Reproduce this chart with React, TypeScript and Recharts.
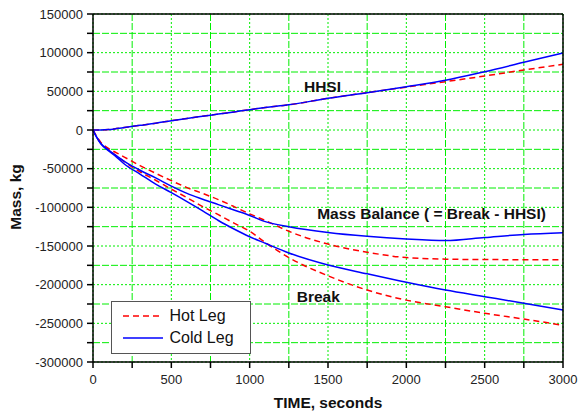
import { LineChart, Line, XAxis, YAxis, CartesianGrid, ReferenceDot } from 'recharts';

const FONT = 'Arial, "Liberation Sans", sans-serif';

// time, seconds
const TIME = [0, 25, 50, 100, 150, 200, 300, 400, 500, 600, 700, 800, 900, 1000, 1100, 1250, 1500, 1750, 2000, 2250, 2500, 2750, 3000];

// mass, kg
const HHSI_HOT = [0, 0, 0, 500, 1800, 3200, 6000, 8800, 12000, 15000, 17800, 20600, 23400, 26300, 29000, 32500, 41000, 48300, 55500, 62500, 69800, 77600, 85000];
const HHSI_COLD = [0, 0, 0, 500, 1800, 3200, 6000, 8800, 12000, 15000, 17800, 20600, 23400, 26300, 29000, 32500, 41000, 48300, 56000, 64300, 75400, 87500, 99600];
const BALANCE_HOT = [0, -9000, -16000, -24000, -29500, -35000, -46000, -56000, -65500, -74500, -82000, -90000, -99000, -108500, -117000, -131000, -147500, -158000, -165000, -167000, -167500, -167700, -167700];
const BALANCE_COLD = [0, -10000, -17500, -26000, -33500, -40500, -52000, -62000, -72500, -82000, -89500, -96500, -103500, -110500, -118500, -125000, -132500, -137500, -141000, -143000, -139000, -135000, -132800];
const BREAK_HOT = [0, -9500, -17000, -26000, -33500, -41000, -54000, -65000, -76500, -87500, -99000, -109500, -120500, -131000, -145500, -165000, -188500, -207000, -220000, -228500, -237000, -244500, -252500];
const BREAK_COLD = [0, -10000, -18000, -27000, -35000, -44000, -57000, -70000, -81000, -92500, -104500, -117000, -128000, -138000, -146500, -159000, -174500, -186000, -197000, -207000, -215500, -224000, -232700];

const X_TICKS = [0, 250, 500, 750, 1000, 1250, 1500, 1750, 2000, 2250, 2500, 2750, 3000];
const X_MAJOR = [0, 500, 1000, 1500, 2000, 2500, 3000];
const X_MINOR = [250, 750, 1250, 1750, 2250, 2750];
const Y_TICKS = [-300000, -275000, -250000, -225000, -200000, -175000, -150000, -125000, -100000, -75000, -50000, -25000, 0, 25000, 50000, 75000, 100000, 125000, 150000];
const Y_MAJOR = [-300000, -250000, -200000, -150000, -100000, -50000, 0, 50000, 100000, 150000];
const Y_MINOR = [-275000, -225000, -175000, -125000, -75000, -25000, 25000, 75000, 125000];

const data = TIME.map((t, i) => ({
    t,
    hhsiHot: HHSI_HOT[i],
    hhsiCold: HHSI_COLD[i],
    balHot: BALANCE_HOT[i],
    balCold: BALANCE_COLD[i],
    brkHot: BREAK_HOT[i],
    brkCold: BREAK_COLD[i],
}));

const HOT = { stroke: '#ff0000', strokeDasharray: '6 4' };
const COLD = { stroke: '#0000ff', strokeDasharray: undefined };

const LEGEND = [
    { label: 'Hot Leg', ...HOT },
    { label: 'Cold Leg', ...COLD },
];

const NOTES = [
    { text: 'HHSI', x: 1465, y: 56000 },
    { text: 'Mass Balance ( = Break - HHSI)', x: 2161, y: -108400 },
    { text: 'Break', x: 1438, y: -215200 },
];

const tickStyle = { fontSize: 13, fill: '#222', fontFamily: FONT };

const YTitle = ({ viewBox }: any) => {
    const cy = viewBox.y + viewBox.height / 2 + 9;
    return (
        <text x={21} y={cy} transform={`rotate(-90 21 ${cy})`} textAnchor="middle"
            fontSize={15.5} fontWeight="bold" fill="#111" fontFamily={FONT}>
            Mass, kg
        </text>
    );
};

export default function App() {
    const series = [
        { key: 'hhsiHot', ...HOT },
        { key: 'balHot', ...HOT },
        { key: 'brkHot', ...HOT },
        { key: 'hhsiCold', ...COLD },
        { key: 'balCold', ...COLD },
        { key: 'brkCold', ...COLD },
    ];

    return (
        <div style={{ position: 'absolute', left: 0, top: 0, width: 578, height: 416, background: '#fff', fontFamily: FONT }}>
            <LineChart width={578} height={416} data={data} margin={{ top: 14, right: 15, left: 0, bottom: 0 }}>
                {/* minor grid dashed, major grid dotted */}
                <CartesianGrid verticalValues={X_MINOR} horizontalValues={Y_MINOR} stroke="#00ee00" strokeDasharray="7 2" />
                <CartesianGrid verticalValues={X_MAJOR} horizontalValues={Y_MAJOR} stroke="#00ee00" strokeDasharray="2 2" />

                <XAxis dataKey="t" type="number" domain={[0, 3000]} ticks={X_TICKS} interval={0}
                    height={54} stroke="#000" strokeWidth={1.5} tickSize={6} tickMargin={7} tick={tickStyle}
                    tickFormatter={(v: number) => (v % 500 === 0 ? String(v) : '')}
                    label={{ value: 'TIME, seconds', position: 'insideBottom', offset: 8, fontSize: 15.5, fontWeight: 'bold', fill: '#111', fontFamily: FONT }} />
                <XAxis xAxisId="top" orientation="top" dataKey="t" type="number" domain={[0, 3000]} ticks={X_TICKS}
                    interval={0} mirror tick={false} tickSize={5} stroke="#000" strokeWidth={1.5} />
                <YAxis type="number" domain={[-300000, 150000]} ticks={Y_TICKS} interval={0} width={93}
                    stroke="#000" strokeWidth={1.5} tickSize={6} tickMargin={4} tick={tickStyle}
                    tickFormatter={(v: number) => (v % 50000 === 0 ? String(v) : '')}
                    label={<YTitle />} />
                <YAxis yAxisId="right" orientation="right" type="number" domain={[-300000, 150000]} ticks={Y_TICKS}
                    interval={0} mirror tick={false} tickSize={5} stroke="#000" strokeWidth={1.5} />

                {series.map((s) => (
                    <Line key={s.key} type="monotone" dataKey={s.key} stroke={s.stroke} strokeDasharray={s.strokeDasharray}
                        strokeWidth={1.5} dot={false} isAnimationActive={false} />
                ))}

                {NOTES.map((n) => (
                    <ReferenceDot key={n.text} x={n.x} y={n.y} r={1} fill="none" stroke="none"
                        label={{ value: n.text, position: 'center', fontSize: 15.5, fontWeight: 'bold', fill: '#111', fontFamily: FONT }} />
                ))}
            </LineChart>

            {/* Legend */}
            <div style={{ position: 'absolute', left: 111, top: 301, width: 140, height: 53, border: '1.5px solid #555', background: '#fff', boxSizing: 'border-box' }}>
                {LEGEND.map((item, i) => (
                    <div key={item.label} style={{ position: 'absolute', left: 11, top: 4 + i * 22.3, height: 20, display: 'flex', alignItems: 'center' }}>
                        <svg width={40} height={4}>
                            <line x1={0} y1={2} x2={40} y2={2} stroke={item.stroke} strokeWidth={1.5} strokeDasharray={item.strokeDasharray} />
                        </svg>
                        <span style={{ marginLeft: 6.5, fontSize: 16, color: '#111', lineHeight: '20px' }}>{item.label}</span>
                    </div>
                ))}
            </div>
        </div>
    );
}
